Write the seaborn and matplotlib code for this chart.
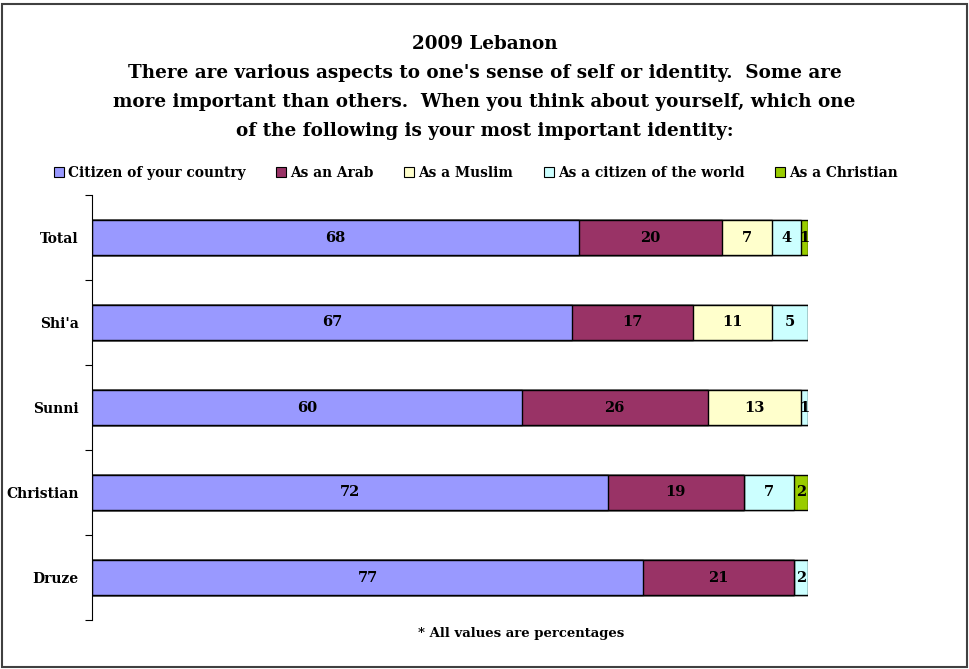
import matplotlib
matplotlib.use("Agg")
import matplotlib.pyplot as plt
from matplotlib.patches import Patch, Rectangle
import numpy as np
import pandas as pd
import seaborn as sns

groups = ["Total", "Shi'a", "Sunni", "Christian", "Druze"]
series_names = ["Citizen of your country", "As an Arab", "As a Muslim",
                "As a citizen of the world", "As a Christian"]
citizen = [68, 67, 60, 72, 77]
arab = [20, 17, 26, 19, 21]
muslim = [7, 11, 13, 0, 0]
world = [4, 5, 1, 7, 2]
christian = [1, 0, 0, 2, 0]
colors = ["#9999FF", "#993366", "#FFFFCC", "#CCFFFF", "#99CC00"]

title = ("2009 Lebanon\n"
         "There are various aspects to one's sense of self or identity.  Some are\n"
         "more important than others.  When you think about yourself, which one\n"
         "of the following is your most important identity:")
footnote = "* All values are percentages"

sns.set_theme(style="white")
plt.rcParams["font.family"] = ["DejaVu Serif"]
plt.rcParams["font.weight"] = "bold"
plt.rcParams["text.color"] = "black"
plt.rcParams["axes.labelcolor"] = "black"
plt.rcParams["ytick.color"] = "black"

values = [citizen, arab, muslim, world, christian]
df = pd.DataFrame({name: v for name, v in zip(series_names, values)}, index=groups)
cum = df.cumsum(axis=1)

fig = plt.figure(figsize=(9.69, 6.69), dpi=100)
ax = fig.add_axes([92 / 969, 1 - 620 / 669, (808 - 92) / 969, (620 - 195) / 669])

# stacked bars: draw cumulative totals from the outermost segment inward
for name, col in reversed(list(zip(series_names, colors))):
    sns.barplot(x=cum[name].values, y=groups, orient="h", color=col,
                width=0.41, edgecolor="black", linewidth=1.0,
                saturation=1, ax=ax)

for name in series_names:
    for i, g in enumerate(groups):
        v = df.loc[g, name]
        if v > 0:
            ax.text(cum.loc[g, name] - v / 2, i, f"{v}", ha="center",
                    va="center", fontsize=10.5, fontweight="bold", color="black")

ax.set_xlim(0, 100)
ax.set_ylim(4.5, -0.5)
ax.set_xlabel("")
ax.set_ylabel("")
ax.set_xticks([])
for s in ["top", "right", "bottom"]:
    ax.spines[s].set_visible(False)
ax.spines["left"].set_color("black")
ax.spines["left"].set_linewidth(0.8)
ax.set_yticks(range(len(groups)))
ax.set_yticklabels(groups, fontsize=10, fontweight="bold", color="black")
ax.set_yticks(np.arange(-0.5, len(groups)), minor=True)
ax.tick_params(axis="y", which="major", length=0, pad=9.5)
ax.tick_params(axis="y", which="minor", length=5, width=0.8, color="black", left=True)

fig.text(484.5 / 969, 1 - 87.5 / 669, title, ha="center", va="center", fontsize=13.2,
         fontweight="bold", linespacing=1.77, color="black")

handles = [Patch(facecolor=c, edgecolor="black", linewidth=0.8) for c in colors]
fig.legend(handles, series_names, loc="center", bbox_to_anchor=(476 / 969, 1 - 173 / 669),
           ncol=5, frameon=False, handlelength=0.75, handleheight=0.75,
           handletextpad=0.3, columnspacing=2.2, prop={"weight": "bold", "size": 9.9})

fig.text(521 / 969, 1 - 634 / 669, footnote, ha="center", va="center",
         fontsize=9.5, fontweight="bold", color="black")

fig.patches.append(Rectangle((2 / 969, 2 / 669), 965 / 969, 663 / 669,
                             transform=fig.transFigure, fill=False,
                             edgecolor="#404040", linewidth=1.5))

fig.savefig("out.png", dpi=100)
